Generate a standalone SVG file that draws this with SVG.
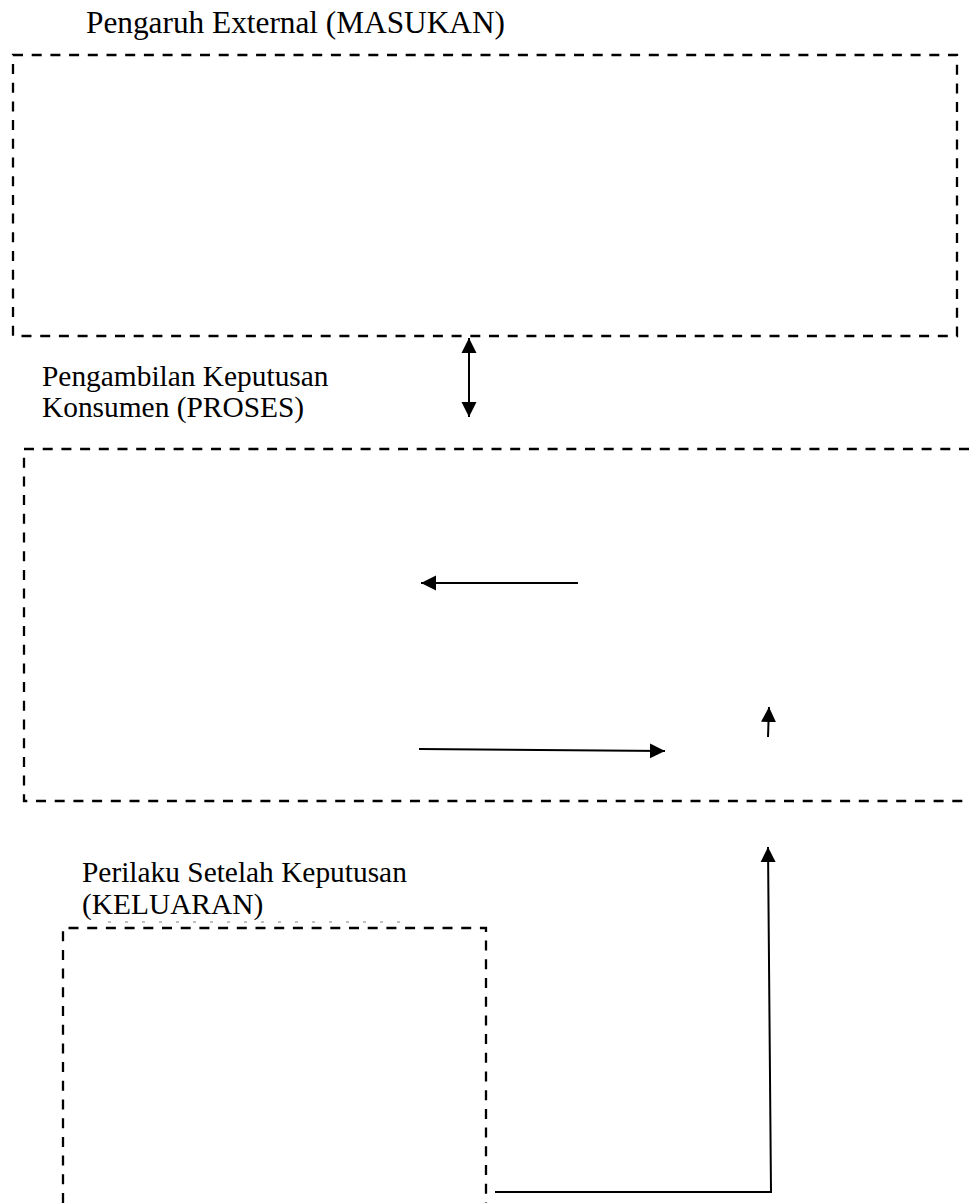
<svg xmlns="http://www.w3.org/2000/svg" width="969" height="1203" viewBox="0 0 969 1203">
<style>
.box{fill:none;stroke:#000;stroke-width:2.3;stroke-dasharray:10 8.7}
.lbl{font-family:"Liberation Serif","Times New Roman",serif;fill:#000}
.con{fill:none;stroke:#000;stroke-width:2}
</style>
<defs>
<marker id="ah" markerUnits="userSpaceOnUse" markerWidth="16" markerHeight="16" viewBox="0 0 16 16" refX="15" refY="8" orient="auto-start-reverse">
<path d="M0,0.5 L15,8 L0,15.5 Z" fill="#000"/>
</marker>
</defs>
<g id="masukan">
<rect class="box" x="13" y="55" width="944" height="281"/>
<text class="lbl" x="86" y="33" font-size="31.3">Pengaruh External (MASUKAN)</text>
</g>
<g id="proses">
<path class="box" d="M969,449 H24 V801 H969"/>
<text class="lbl" x="42" y="386" font-size="29.4">Pengambilan Keputusan</text>
<text class="lbl" x="42" y="417" font-size="29.4">Konsumen (PROSES)</text>
</g>
<g id="keluaran">
<path class="box" d="M63,1203 V928 H486 V1203"/>
<path d="M108,922 H410" fill="none" stroke="#000" stroke-width="1" stroke-dasharray="3 14" opacity="0.5"/>
<text class="lbl" x="82" y="882" font-size="29.4">Perilaku Setelah Keputusan</text>
<text class="lbl" x="82" y="914" font-size="29.4">(KELUARAN)</text>
</g>
<g id="connectors">
<line class="con" x1="469" y1="338" x2="469" y2="417" marker-start="url(#ah)" marker-end="url(#ah)"/>
<line class="con" x1="578" y1="583" x2="421" y2="583" marker-end="url(#ah)"/>
<line class="con" x1="419" y1="749" x2="665" y2="751" marker-end="url(#ah)"/>
<line class="con" x1="768" y1="737" x2="769" y2="707" marker-end="url(#ah)"/>
<polyline class="con" points="495,1192 771,1192 768,847" marker-end="url(#ah)"/>
</g>
</svg>
